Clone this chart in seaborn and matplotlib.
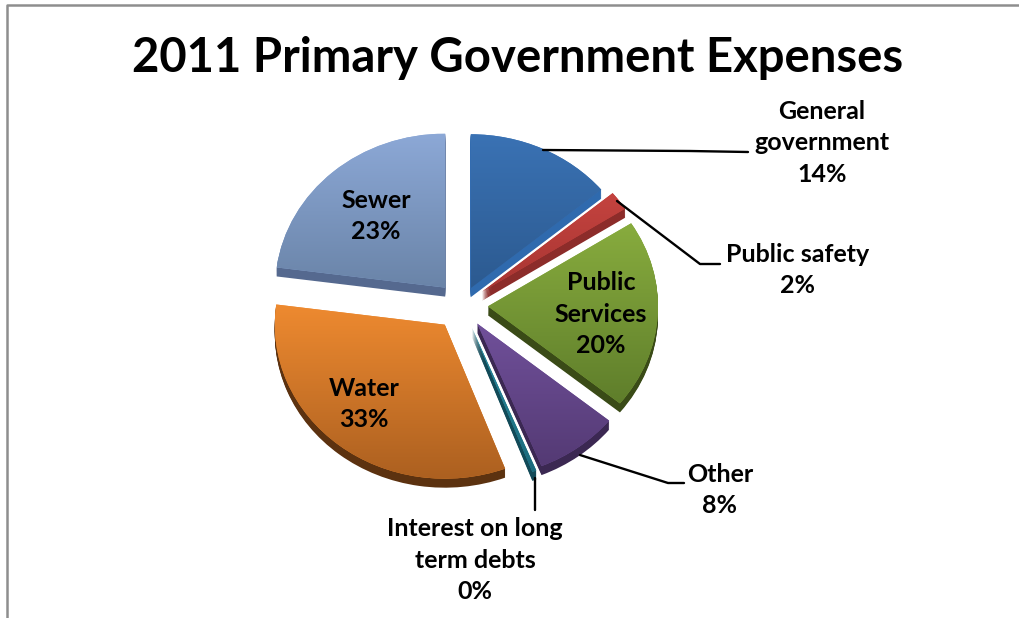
import numpy as np
import matplotlib
matplotlib.use("Agg")
import matplotlib.pyplot as plt
from matplotlib.colors import LinearSegmentedColormap
from matplotlib.lines import Line2D
import seaborn as sns

# Expense shares, clockwise from twelve o'clock
categories = ["General\ngovernment", "Public safety", "Public\nServices", "Other",
              "Interest on long\nterm debts", "Water", "Sewer"]
shares = [14, 2, 20, 8, 0.4, 33, 23]
title_text = "2011 Primary Government Expenses"

# Face gradient (top, bottom) and side wall colours per slice
face_top = ["#3A72B4", "#C4433F", "#88AC3E", "#70509A", "#2A8A9E", "#EE8A30", "#8CA8D6"]
face_bottom = ["#2C5A90", "#A83532", "#5F7E2B", "#543A74", "#1B6A7C", "#AC6020", "#6A84A8"]
side_colors = ["#2F6AAE", "#8C2C2A", "#3A4B17", "#3B2852", "#124A58", "#5C3210", "#55698F"]
explode = [0.12, 0.146, 0.153, 0.15, 0.16, 0.163, 0.15]

sns.set_theme(style="white")
plt.rcParams["font.family"] = ["Lato", "DejaVu Sans"]

W, H = 1019, 618
CX, CY, RX, RY, DEPTH = 462, 305, 170, 154, 9

fig = plt.figure(figsize=(W / 100, H / 100), dpi=100, facecolor="white")
ax = fig.add_axes([0, 0, 1, 1])

# Extruded side walls: stacked copies of the pie, shifted downwards
for k in np.linspace(1, 0.1, 10):
    ax.pie(shares, explode=explode, startangle=90, counterclock=False, radius=1,
           colors=sns.color_palette(side_colors), center=(0, -k * DEPTH / RY),
           wedgeprops={"linewidth": 0})

# Top faces, filled with a vertical gradient clipped to each wedge
wedges, _ = ax.pie(shares, explode=explode, startangle=90, counterclock=False, radius=1,
                   colors=sns.color_palette(face_top), wedgeprops={"linewidth": 0})
for wedge, top, bottom in zip(wedges, face_top, face_bottom):
    box = wedge.get_path().get_extents()
    cmap = LinearSegmentedColormap.from_list("face", [top, bottom])
    img = ax.imshow(np.linspace(0, 1, 128)[:, None], cmap=cmap, aspect="auto", origin="upper",
                    extent=(box.x0, box.x1, box.y0, box.y1), zorder=wedge.get_zorder() + 0.5)
    img.set_clip_path(wedge)

# One pie unit spans RX pixels across and RY pixels down, giving the tilted look
ax.set_aspect("auto")
ax.set_xlim(-CX / RX, (W - CX) / RX)
ax.set_ylim(-(H - CY) / RY, CY / RY)
ax.axis("off")

# Overlay in pixel units for frame, leaders and labels
ov = fig.add_axes([0, 0, 1, 1], facecolor="none")
ov.set_xlim(0, W)
ov.set_ylim(H, 0)
ov.axis("off")

ov.add_line(Line2D([7, 7, W], [H, 4.5, 4.5], color="#8E8E8E", lw=1.8))

leaders = [
    ([543, 690, 748], [150, 151, 152]),
    ([617, 700, 720], [201, 264, 264]),
    ([580, 668, 684], [455, 483, 483]),
    ([535, 535], [478, 510]),
]
for xs, ys in leaders:
    ov.add_line(Line2D(xs, ys, color="black", lw=1.7))

label_pos = [(822, 143), (798, 270), (601, 314), (720, 490), (475, 560), (364, 404), (376, 216)]
for name, share, (x, y) in zip(categories, shares, label_pos):
    ov.text(x, y, f"{name}\n{round(share)}%", ha="center", va="center", fontsize=18,
            fontweight="bold", color="black", linespacing=1.45)

ov.text(518, 58, title_text, ha="center", va="center", fontsize=34, fontweight="bold", color="black")

fig.savefig("out.png", dpi=100, facecolor="white")
